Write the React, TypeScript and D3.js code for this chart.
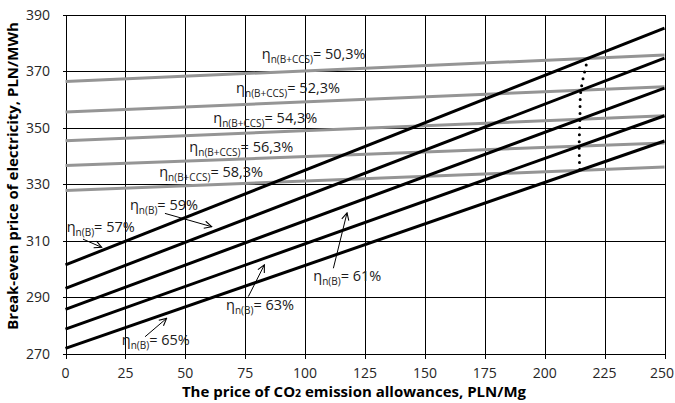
import React from "react";
import * as d3 from "d3";

// CO2 price (PLN/Mg) range covered by every line
const priceRange = [0, 250];

// biomass plant, eta n(B) -- break-even price at 0 and 250 PLN/Mg
const bEff = ["57%", "59%", "61%", "63%", "65%"];
const bStart = [301.5, 293.2, 285.8, 278.8, 272.0];
const bEnd = [385.2, 374.6, 364.0, 354.2, 345.3];

// biomass + CCS plant, eta n(B+CCS)
const ccsEff = ["50,3%", "52,3%", "54,3%", "56,3%", "58,3%"];
const ccsStart = [366.3, 355.5, 345.4, 336.6, 327.8];
const ccsEnd = [375.7, 364.5, 354.2, 344.6, 336.1];

const xTicks = [0, 25, 50, 75, 100, 125, 150, 175, 200, 225, 250];
const yTicks = [270, 290, 310, 330, 350, 370, 390];

// label anchors in data units [price, PLN/MWh]
const ccsLabelAt = [[81.9, 374.2], [71.2, 362.4], [61.7, 351.5], [51.7, 341.5], [39.1, 332.7]];
const bLabelAt = [[0.5, 313.2], [26.9, 320.9], [103.4, 295.8], [67.0, 285.6], [23.5, 273.2]];
const bArrowFrom = [[7.3, 310.6], [41.5, 319.7], [111.8, 300.3], [76.3, 290.3], [33.2, 276.1]];
const bArrowTo = [[15.1, 307.7], [61.0, 315.0], [117.5, 319.9], [83.0, 301.5], [42.2, 282.6]];

const W = 675;
const H = 403;
const FONT = "'Open Sans', sans-serif";

export default function App() {
  const x = d3.scaleLinear().domain([0, 250]).range([65.5, 664.5]);
  const y = d3.scaleLinear().domain([270, 390]).range([354, 14.5]);
  const snap = (v: number) => Math.round(v) + 0.5;

  const line = d3
    .line<[number, number]>()
    .x((d) => x(d[0]))
    .y((d) => y(d[1]));

  // where each B line crosses its B+CCS partner -> dotted boundary
  const crossings: [number, number][] = bEff.map((_, i) => {
    const sb = (bEnd[i] - bStart[i]) / 250;
    const sc = (ccsEnd[i] - ccsStart[i]) / 250;
    const px = (ccsStart[i] - bStart[i]) / (sb - sc);
    return [px, bStart[i] + sb * px];
  });
  const dotted = d3
    .line<[number, number]>()
    .x((d) => x(d[0]))
    .y((d) => y(d[1]))
    .curve(d3.curveCatmullRom);

  const x0 = snap(x(0));
  const x1 = snap(x(250));
  const yTop = snap(y(390));
  const yBot = snap(y(270));

  return (
    <svg
      width={W}
      height={H}
      style={{ position: "absolute", left: 0, top: 0, background: "#fff" }}
      fontFamily={FONT}
    >
      <defs>
        <marker
          id="arr"
          viewBox="0 0 10 10"
          refX={9}
          refY={5}
          markerWidth={9}
          markerHeight={9}
          markerUnits="userSpaceOnUse"
          orient="auto"
        >
          <path d="M1,1 L9,5 L1,9" fill="none" stroke="#000" strokeWidth={1.2} />
        </marker>
      </defs>

      {/* grid */}
      <g stroke="#000" strokeWidth={1} shapeRendering="crispEdges">
        {xTicks.map((t) => (
          <line key={"gx" + t} x1={snap(x(t))} x2={snap(x(t))} y1={yTop} y2={yBot + 4} />
        ))}
        {yTicks.map((t) => (
          <line key={"gy" + t} x1={x0 - 4} x2={x1} y1={snap(y(t))} y2={snap(y(t))} />
        ))}
      </g>

      {/* tick labels */}
      <g fontSize={14} fill="#262626">
        {xTicks.map((t) => (
          <text key={"tx" + t} x={Math.min(x(t), W - 13)} y={378} textAnchor="middle">
            {t}
          </text>
        ))}
        {yTicks.map((t) => (
          <text key={"ty" + t} x={50} y={y(t) + 5} textAnchor="end">
            {t}
          </text>
        ))}
      </g>

      {/* B+CCS lines (gray) */}
      {ccsEff.map((e, i) => (
        <path
          key={"c" + e}
          d={line([[priceRange[0], ccsStart[i]], [priceRange[1], ccsEnd[i]]]) || ""}
          stroke="#959595"
          strokeWidth={3}
          fill="none"
        />
      ))}

      {/* B lines (black) */}
      {bEff.map((e, i) => (
        <path
          key={"b" + e}
          d={line([[priceRange[0], bStart[i]], [priceRange[1], bEnd[i]]]) || ""}
          stroke="#000"
          strokeWidth={3}
          fill="none"
        />
      ))}

      <path
        d={dotted(crossings) || ""}
        stroke="#000"
        strokeWidth={3}
        strokeDasharray="0 7"
        strokeLinecap="round"
        fill="none"
      />

      {/* arrows */}
      {bEff.map((e, i) => (
        <line
          key={"a" + e}
          x1={x(bArrowFrom[i][0])}
          y1={y(bArrowFrom[i][1])}
          x2={x(bArrowTo[i][0])}
          y2={y(bArrowTo[i][1])}
          stroke="#000"
          strokeWidth={1}
          markerEnd="url(#arr)"
        />
      ))}

      {/* labels */}
      <g fill="#1a1a1a" fontSize={14.5}>
        {ccsEff.map((e, i) => (
          <text key={"lc" + e} x={x(ccsLabelAt[i][0])} y={y(ccsLabelAt[i][1])}>
            η
            <tspan fontSize={10} dy={4}>n(B+CCS)</tspan>
            <tspan dy={-4}>= {e}</tspan>
          </text>
        ))}
        {bEff.map((e, i) => (
          <text key={"lb" + e} x={x(bLabelAt[i][0])} y={y(bLabelAt[i][1])}>
            η
            <tspan fontSize={10} dy={4}>n(B)</tspan>
            <tspan dy={-4}>= {e}</tspan>
          </text>
        ))}
      </g>

      {/* axis titles */}
      <text x={354} y={397} textAnchor="middle" fontSize={15} fontWeight="bold" fill="#000">
        The price of CO<tspan fontSize={10.5}>2</tspan> emission allowances, PLN/Mg
      </text>
      <text
        transform="translate(18,176) rotate(-90)"
        textAnchor="middle"
        fontSize={15}
        fontWeight="bold"
        fill="#000"
      >
        Break-even price of electricity, PLN/MWh
      </text>
    </svg>
  );
}
